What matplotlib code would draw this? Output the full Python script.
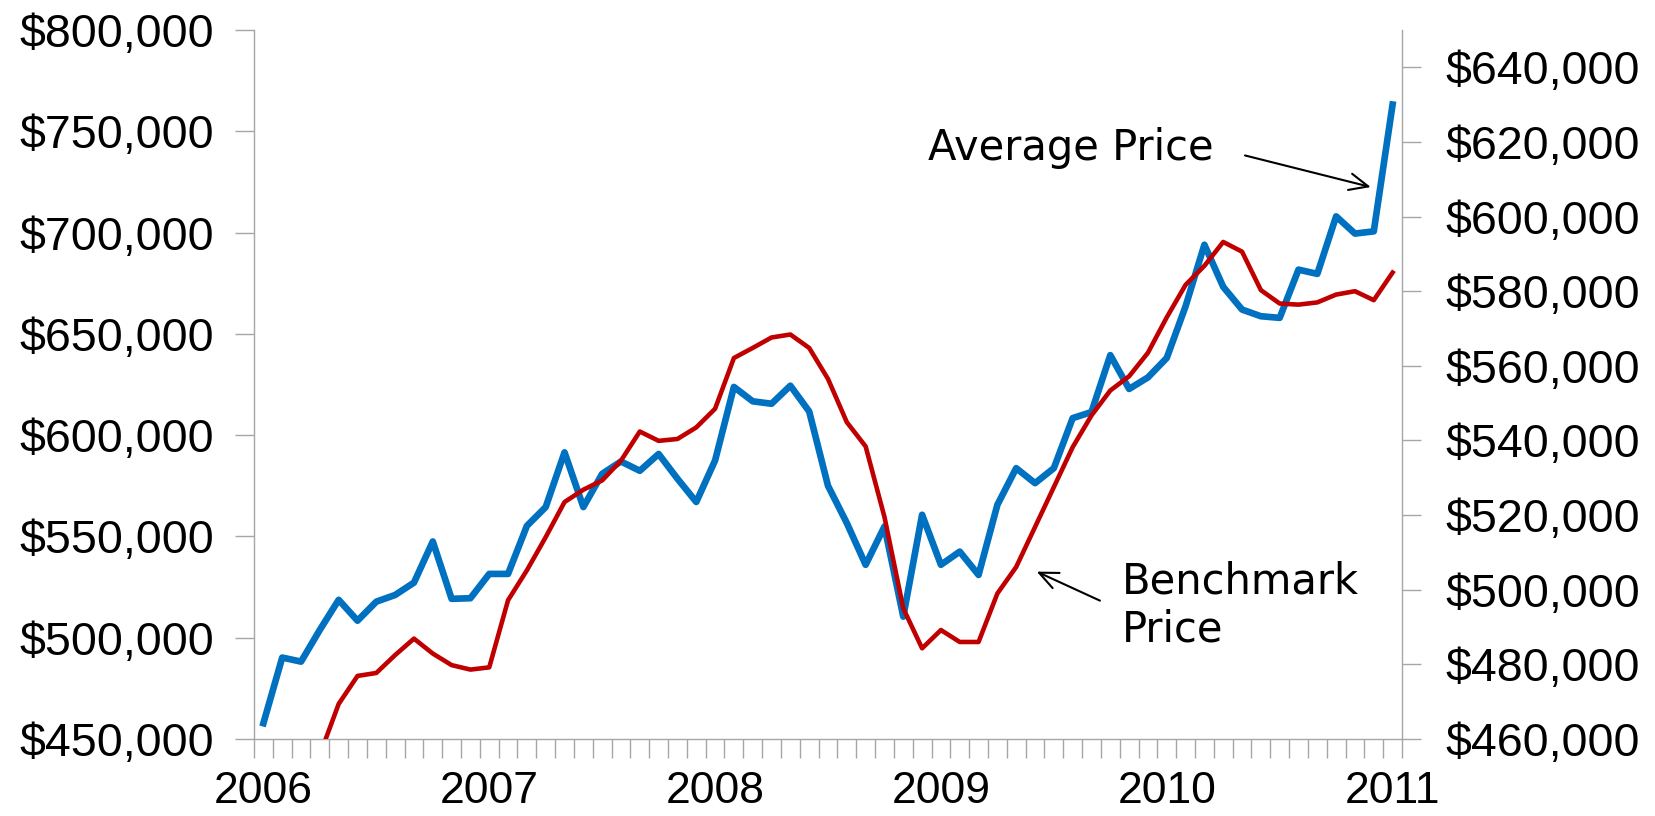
import numpy as np
import matplotlib
matplotlib.use("Agg")
import matplotlib.pyplot as plt
from matplotlib.ticker import StrMethodFormatter

# monthly values, Jan 2006 .. Jan 2011
average_price = [
    457800, 490200, 488200, 503900, 518700, 508400, 517800, 521100, 527200, 547500, 519200, 519500,
    531500, 531500, 555200, 564500, 591500, 564500, 580900, 587000, 582400, 590700, 578500, 567000,
    587500, 623800, 616700, 615500, 624400, 611700, 575000, 556600, 536000, 554900, 510400, 560700,
    536000, 542500, 531000, 565600, 583700, 576300, 583700, 608400, 611400, 639500, 622800, 628500,
    638100, 663600, 694000, 673200, 662000, 658700, 657900, 681700, 679600, 708000, 699500, 700600,
    763200,
]
benchmark_price = [
    np.nan, np.nan, np.nan, 455800, 469400, 476900, 477700, 482500, 486900, 482900, 479800, 478600,
    479200, 497200, 505200, 514100, 523500, 526800, 529300, 534600, 542400, 539900, 540400, 543500,
    548500, 562100, 564800, 567600, 568400, 564800, 556500, 544900, 538400, 519500, 495000, 484300,
    489200, 486000, 486000, 499000, 506100, 516800, 527500, 538200, 546700, 553400, 557200, 563500,
    573000, 581700, 586800, 593200, 590600, 580300, 576700, 576400, 577000, 579100, 580000, 577600,
    585000,
]
years = ["2006", "2007", "2008", "2009", "2010", "2011"]

grey = "#A6A6A6"
tick_font = "Liberation Sans"

fig = plt.figure(figsize=(16.56, 8.16), dpi=100)
ax = fig.add_axes([254 / 1656, 1 - 739 / 816, 1148 / 1656, 709 / 816])
ax2 = ax.twinx()

x = np.arange(len(average_price))
ax.plot(x, average_price, color="#0070C0", lw=4.8)
ax2.plot(x, benchmark_price, color="#C00000", lw=3.3)

ax.set_xlim(-0.5, len(x) - 0.5)
ax.set_ylim(450000, 800000)
ax2.set_ylim(460000, 650000)

ax.set_yticks(np.arange(450000, 800001, 50000))
ax2.set_yticks(np.arange(460000, 640001, 20000))
ax.yaxis.set_major_formatter(StrMethodFormatter("${x:,.0f}"))
ax2.yaxis.set_major_formatter(StrMethodFormatter("${x:,.0f}"))

ax.set_xticks(np.arange(0, len(x), 12), labels=years)
ax.set_xticks(np.arange(-0.5, len(x), 1), minor=True)

for a in (ax, ax2):
    for s in a.spines.values():
        s.set_visible(False)
        s.set_color(grey)
        s.set_linewidth(1.0)
ax.spines["left"].set_visible(True)
ax.spines["bottom"].set_visible(True)
ax2.spines["right"].set_visible(True)

ax.tick_params(axis="y", direction="out", length=14, width=1.0, color=grey,
               labelsize=33.5, pad=15)
ax2.tick_params(axis="y", direction="out", length=14, width=1.0, color=grey,
                labelsize=33.5, pad=17)
ax.tick_params(axis="x", which="major", length=0, labelsize=32, pad=23)
ax.tick_params(axis="x", which="minor", direction="out", length=14, width=1.0, color=grey)
for lab in ax.get_xticklabels() + ax.get_yticklabels() + ax2.get_yticklabels():
    lab.set_fontfamily(tick_font)

# annotations
arrow = dict(arrowstyle="->,head_length=0.45,head_width=0.2", color="black", lw=1.5,
             shrinkA=0, shrinkB=0, mutation_scale=30)
ax.text(35.31, 735600, "Average Price", fontsize=30, family="DejaVu Sans",
        ha="left", va="baseline")
ax.annotate("", xy=(58.84, 722470), xytext=(52.16, 738070), arrowprops=arrow)
# baseline of the last line ("Price")
ax.text(45.61, 498050, "Benchmark\nPrice", fontsize=30, family="DejaVu Sans",
        ha="left", va="baseline", linespacing=1.2)
ax.annotate("", xy=(41.09, 532630), xytext=(44.45, 518300), arrowprops=arrow)

fig.savefig("out.png", dpi=100)
